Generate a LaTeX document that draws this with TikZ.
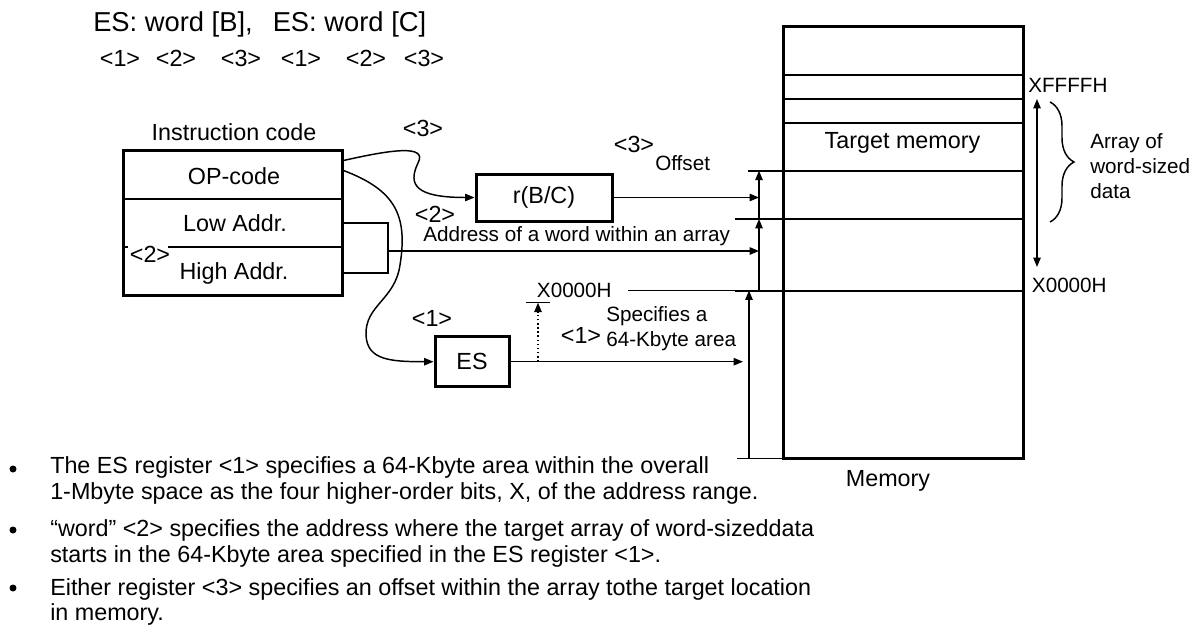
\documentclass[tikz,border=0pt]{standalone}
\usepackage{fontspec}
\setmainfont{Liberation Sans}
\usetikzlibrary{arrows.meta,decorations.pathreplacing}

\tikzset{
  lbl/.style={font=\fontsize{17.5}{21}\selectfont, inner sep=0pt},
  sml/.style={font=\fontsize{15.5}{18.75}\selectfont, inner sep=0pt},
  regbox/.style={draw, line width=2.25pt, inner sep=0pt, font=\fontsize{17.5}{21}\selectfont},
  wire/.style={line width=1.1pt},
  cell/.style={line width=1.5pt}
}

\begin{document}
\begin{tikzpicture}[x=0.75pt, y=-0.75pt, >={Triangle[length=7pt,width=5.5pt]}]
        \useasboundingbox (0,0) rectangle (1195,625);

        % Instruction line and operand numbers
        \node[lbl, anchor=base west, font=\fontsize{20.5}{24}\selectfont] (title) at (93,31.5) {ES: word [B],\hspace{15pt}ES: word [C]};
        \foreach \x/\n in {120/1,176/2,241/3,301/1,366/2,424/3}
            \node[lbl, anchor=base] (idx-\x) at (\x,66.5) {<\n>};

        % Instruction code box
        \node[lbl] (caption) at (234,132) {Instruction code};
        \node[regbox, minimum width=164.25pt, minimum height=108.75pt] (instr) at (232.5,222.5) {};
        \node[lbl] (op) at (234,176) {OP-code};
        \node[lbl] (low) at (235,223) {Low Addr.};
        \node[lbl] (high) at (234,273) {High Addr.};
        \draw[cell] (123,199) -- (342,199);
        \draw[cell] (123,246.7) -- (128,246.7);
        \draw[cell] (168,246.7) -- (342,246.7);
        \node[lbl] (w-left) at (150,254) {<2>};

        % Registers
        \node[regbox, minimum width=102pt, minimum height=35.25pt] (rbc) at (544,197.5) {r(B/C)};
        \node[regbox, minimum width=55.5pt, minimum height=37.5pt] (es) at (472,361.7) {ES};
        \node[lbl] (r-num) at (423,128) {<3>};
        \node[lbl] (es-num) at (432,318) {<1>};

        % Memory
        \node[regbox, minimum width=180pt, minimum height=323.7pt] (mem) at (903,242.5) {};
        \foreach \y/\xl in {75/783,99/783,122.7/783,170.7/748,219/735,290.5/735}
            \draw[cell] (\xl,\y) -- (1023,\y);
        \node[lbl] (target) at (902.5,143.3) {Target memory};
        \node[lbl] (memname) at (888,481) {Memory};
        \node[sml, anchor=west] (top) at (1028,85) {XFFFFH};
        \node[sml, anchor=west] (bottom) at (1031.7,285) {X0000H};

        % Array of word-sized data
        \draw[wire, <->] (1037,99) -- (1037,267);
        \draw[wire, decorate, decoration={brace, amplitude=18pt}] (1050,102) -- (1050,222);
        \node[sml, anchor=west, align=left] (array) at (1090,165.7) {Array of\\word-sized\\data};

        % Marks on the left of the memory
        \coordinate (a0) at (759,290.5);
        \coordinate (a1) at (759,219);
        \coordinate (a2) at (759,170.7);
        \coordinate (b0) at (749,458.3);
        \coordinate (b1) at (749,290.5);
        \draw[wire] (737,458.3) -- (783,458.3);
        \draw[wire, ->] (b0) -- (b1);
        \draw[wire, ->] (a0) -- (a1);
        \draw[wire, ->] (a1) -- (a2);

        % Paths from the instruction code
        \draw[wire, ->] (instr.north east) ++(0,12) .. controls (390,150) and (428,144) .. (418,163)
            .. controls (408,184) and (414,197.5) .. (rbc.west);
        \draw[wire, ->] (instr.north east) ++(0,22) .. controls (395,190) and (408,215) .. (400,265)
            .. controls (395,300) and (365,305) .. (366,335)
            .. controls (367,360) and (390,361.7) .. (es.west);
        \draw[wire] (instr.east |- low) -- (388,223) |- (instr.east |- high);
        \coordinate (join) at (388,251);
        \draw[wire, ->] (join) -- (join -| a1);
        \node[lbl] (w-num) at (435,214) {<2>};
        \node[sml, anchor=west] (addr) at (423,236) {Address of a word within an array};

        % Offset
        \draw[wire, ->] (rbc.east) -- (rbc.east -| a1);
        \node[lbl] (off-num) at (634,144) {<3>};
        \node[sml, anchor=west] (offset) at (655,163) {Offset};

        % 64-Kbyte area
        \draw[wire, ->, shorten >=4.5pt] (es.east) -- (es.east -| b0);
        \coordinate (tap) at (538,361.7);
        \coordinate (tick) at (538,302.7);
        \draw[wire, dotted, ->] (tap) -- (tick);
        \draw[wire] (526,302.7) -- (550,302.7);
        \node[sml, anchor=west] (base) at (536.7,290) {X0000H};
        \draw[wire] (628,290.5) -- (748,290.5);
        \node[lbl] (area-num) at (581,335) {<1>};
        \node[sml, anchor=west, align=left] (area) at (606,328.7) {Specifies a\\64-Kbyte area};

        % Notes
        \fill (13,469) circle[radius=3.5];
        \fill (13,530) circle[radius=3.5];
        \fill (13,588) circle[radius=3.5];
        \node[lbl, anchor=base west] (note1a) at (50,473.3) {The ES register <1> specifies a 64-Kbyte area within the overall};
        \node[lbl, anchor=base west] (note1b) at (50,499) {1-Mbyte space as the four higher-order bits, X, of the address range.};
        \node[lbl, anchor=base west] (note2a) at (50,536.7) {“word” <2> specifies the address where the target array of word-sizeddata};
        \node[lbl, anchor=base west] (note2b) at (50,562.7) {starts in the 64-Kbyte area specified in the ES register <1>.};
        \node[lbl, anchor=base west] (note3a) at (50,595) {Either register <3> specifies an offset within the array tothe target location};
        \node[lbl, anchor=base west] (note3b) at (50,620) {in memory.};
    \end{tikzpicture}
\end{document}
